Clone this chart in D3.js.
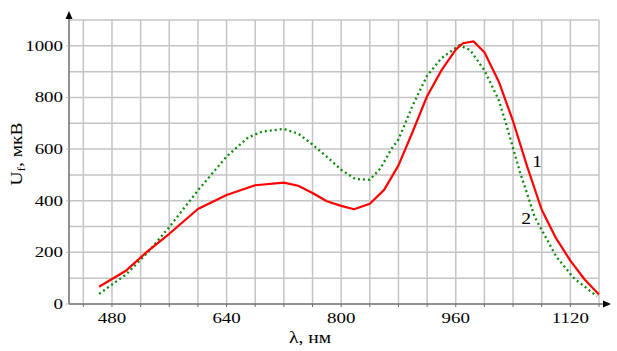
<!DOCTYPE html>
<html>
<head>
<meta charset="utf-8">
<script src="https://cdn.jsdelivr.net/npm/d3@7"></script>
<style>
  body { margin: 0; background: #fff; }
  text { font-family: "Liberation Serif", "Times New Roman", serif; fill: #000; }
</style>
</head>
<body>
<div id="chart"></div>
<script>
// curve 1 (red, solid)
const wave1 = [462, 500, 530, 560, 600, 640, 680, 720, 740, 760, 780, 800, 818, 840, 860, 880, 900, 920, 940, 960, 970, 985, 1000, 1020, 1040, 1060, 1080, 1100, 1120, 1140, 1160];
const signal1 = [67, 130, 205, 272, 368, 422, 460, 470, 458, 430, 398, 380, 367, 388, 442, 537, 668, 805, 905, 985, 1010, 1017, 975, 862, 708, 530, 365, 255, 168, 95, 37];
// curve 2 (green, dotted)
const wave2 = [462, 500, 530, 560, 600, 640, 670, 690, 720, 740, 760, 785, 800, 820, 840, 855, 870, 880, 900, 920, 940, 965, 980, 1000, 1020, 1030, 1040, 1050, 1060, 1070, 1085, 1100, 1125, 1157];
const signal2 = [39, 115, 200, 298, 440, 571, 645, 668, 678, 660, 618, 558, 520, 484, 481, 526, 600, 637, 770, 884, 952, 1002, 984, 905, 790, 700, 604, 507, 425, 338, 262, 185, 100, 30];
const xTicks = [480, 640, 800, 960, 1120];
const yTicks = [0, 200, 400, 600, 800, 1000];

const W = 617, H = 351;
const svg = d3.select("#chart").append("svg").attr("width", W).attr("height", H);

const x = d3.scaleLinear().domain([420, 1160]).range([69, 599]);
const y = d3.scaleLinear().domain([0, 1100]).range([304, 20]);
const SX = 1.22; // glyphs in the picture are wider than normal

// grid
const grid = svg.append("g").attr("stroke", "#c4c4c4").attr("stroke-width", 1.5);
grid.selectAll(".v").data(d3.range(440, 1161, 40)).enter().append("line")
  .attr("x1", d => x(d)).attr("x2", d => x(d))
  .attr("y1", y(1100)).attr("y2", y(0));
grid.selectAll(".h").data(d3.range(100, 1101, 100)).enter().append("line")
  .attr("x1", x(420)).attr("x2", x(1160))
  .attr("y1", d => y(d)).attr("y2", d => y(d));

// axes lines with arrows
const axisColor = "#6e6e6e";
svg.append("line").attr("x1", x(420)).attr("x2", 604).attr("y1", y(0)).attr("y2", y(0))
  .attr("stroke", axisColor).attr("stroke-width", 1.5);
svg.append("line").attr("x1", x(420)).attr("x2", x(420)).attr("y1", y(0)).attr("y2", 16)
  .attr("stroke", axisColor).attr("stroke-width", 1.5);
svg.append("path").attr("d", `M611,${y(0)} L603,${y(0) - 3.5} L603,${y(0) + 3.5} Z`).attr("fill", "#000");
svg.append("path").attr("d", `M${x(420)},11 L${x(420) - 3.5},19 L${x(420) + 3.5},19 Z`).attr("fill", "#000");

// small ticks
svg.append("g").selectAll("line").data(d3.range(440, 1161, 40)).enter().append("line")
  .attr("x1", d => x(d)).attr("x2", d => x(d)).attr("y1", y(0)).attr("y2", y(0) + 3)
  .attr("stroke", axisColor).attr("stroke-width", 1);
svg.append("g").selectAll("line").data(yTicks).enter().append("line")
  .attr("x1", x(420) - 3).attr("x2", x(420)).attr("y1", d => y(d)).attr("y2", d => y(d))
  .attr("stroke", "#bbb").attr("stroke-width", 1);

// tick labels
svg.append("g").selectAll("text").data(xTicks).enter().append("text")
  .attr("transform", d => `translate(${x(d)},323) scale(${SX},1)`)
  .attr("text-anchor", "middle").style("font-size", "15.5px")
  .text(d => d);
svg.append("g").selectAll("text").data(yTicks).enter().append("text")
  .attr("transform", d => `translate(63,${y(d) + 5}) scale(${SX},1)`)
  .attr("text-anchor", "end").style("font-size", "15.5px")
  .text(d => d);

// axis titles
svg.append("text")
  .attr("transform", `translate(310,343) scale(${SX},1)`)
  .attr("text-anchor", "middle").style("font-size", "16px")
  .text("λ, нм");
const yl = svg.append("text")
  .attr("transform", `translate(22,154) rotate(-90) scale(${SX},1)`)
  .attr("text-anchor", "middle").style("font-size", "16px");
yl.append("tspan").text("U");
yl.append("tspan").attr("dy", 3).style("font-size", "11px").text("f");
yl.append("tspan").attr("dy", -3).text(", мкВ");

// curves
const line = d3.line().x(d => x(d[0])).y(d => y(d[1]));
svg.append("path").datum(d3.zip(wave2, signal2)).attr("d", line)
  .attr("fill", "none").attr("stroke", "#0b8a0b").attr("stroke-width", 2.3)
  .attr("stroke-dasharray", "2,3");
svg.append("path").datum(d3.zip(wave1, signal1)).attr("d", line)
  .attr("fill", "none").attr("stroke", "#ff0000").attr("stroke-width", 2.2)
  .attr("stroke-linejoin", "round");

// curve numbers
svg.append("text").attr("transform", `translate(537,167) scale(${SX},1)`)
  .attr("text-anchor", "middle").style("font-size", "16px").text("1");
svg.append("text").attr("transform", `translate(526,224) scale(${SX},1)`)
  .attr("text-anchor", "middle").style("font-size", "16px").text("2");
</script>
</body>
</html>
